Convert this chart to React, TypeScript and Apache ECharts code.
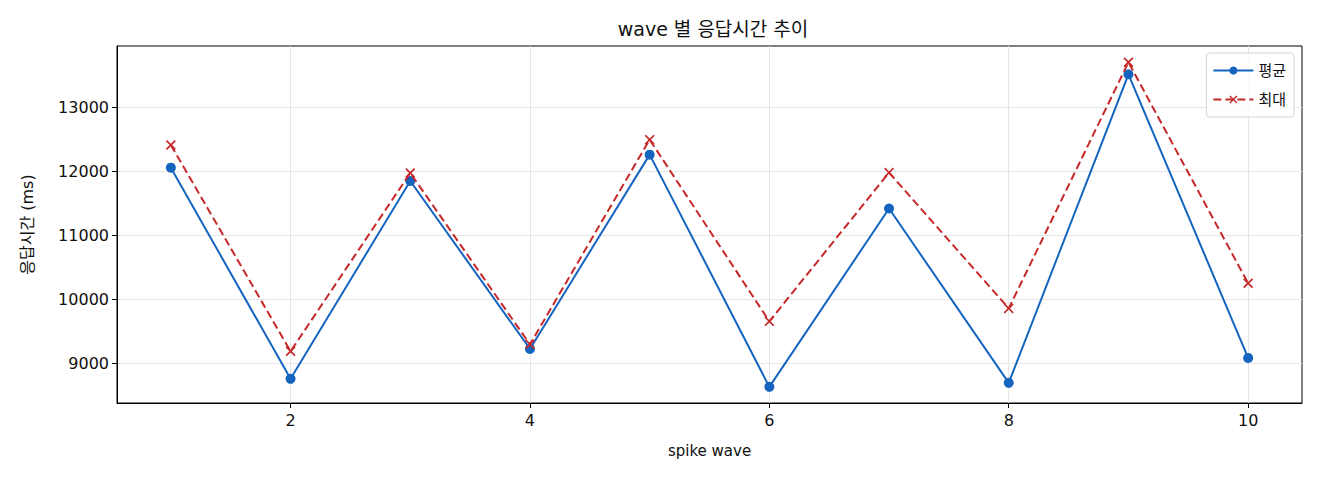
import { useEffect, useRef } from "react";
import * as echarts from "echarts";

const waves = [1, 2, 3, 4, 5, 6, 7, 8, 9, 10];
const avgMs = [12057, 8762, 11849, 9229, 12260, 8637, 11419, 8699, 13514, 9089];
const maxMs = [12410, 9192, 11974, 9300, 12494, 9659, 11980, 9861, 13701, 10254];
const xTicks = [2, 4, 6, 8, 10];
const yTicks = [9000, 10000, 11000, 12000, 13000];

const FONT = "'DejaVu Sans', 'Noto Sans CJK KR', sans-serif";
const BLUE = "#1565c0";
const RED = "#c62828";
// matplotlib-like "x" marker as a thin filled cross
const CROSS =
  "path://M0,1.2L1.2,0L5,3.8L8.8,0L10,1.2L6.2,5L10,8.8L8.8,10L5,6.2L1.2,10L0,8.8L3.8,5Z";

export default function App() {
  const chartRef = useRef<HTMLDivElement>(null);

  useEffect(() => {
    if (!chartRef.current) return;
    const chart = echarts.init(chartRef.current, undefined, { renderer: "svg" });

    const pairs = (ys: number[]) => waves.map((w, i) => [w, ys[i]]);

    chart.setOption({
      animation: false,
      backgroundColor: "#ffffff",
      textStyle: { fontFamily: FONT },
      title: {
        text: "wave 별 응답시간 추이",
        left: 708,
        top: 14,
        textAlign: "center",
        textStyle: { fontFamily: FONT, fontSize: 19, fontWeight: "normal", color: "#111" },
      },
      legend: {
        right: 26,
        top: 53,
        orient: "vertical",
        itemWidth: 40,
        itemHeight: 10,
        itemGap: 14,
        padding: [10, 8, 10, 6],
        borderColor: "#d6d6d6",
        borderWidth: 1,
        borderRadius: 3,
        backgroundColor: "rgba(255,255,255,0.8)",
        textStyle: { fontFamily: FONT, fontSize: 15, color: "#111" },
        data: ["평균", "최대"],
      },
      grid: {
        left: 117,
        right: 18,
        top: 46,
        bottom: 77,
        show: true,
        borderColor: "#000",
        borderWidth: 1,
        containLabel: false,
      },
      xAxis: {
        type: "value",
        min: 0.55,
        max: 10.45,
        name: "spike wave",
        nameLocation: "middle",
        nameGap: 40,
        nameTextStyle: { fontFamily: FONT, fontSize: 15, color: "#111" },
        axisLine: { show: true, lineStyle: { color: "#000", width: 1 } },
        axisTick: { show: true, length: 5, lineStyle: { color: "#000" }, customValues: xTicks },
        axisLabel: { fontSize: 16, color: "#111", margin: 9, customValues: xTicks },
        splitLine: { show: true, lineStyle: { color: "#e6e6e6", width: 1 } },
      },
      yAxis: {
        type: "value",
        min: 8385,
        max: 13955,
        name: "응답시간 (ms)",
        nameLocation: "middle",
        nameGap: 82,
        nameRotate: 90,
        nameTextStyle: { fontFamily: FONT, fontSize: 16, color: "#111" },
        axisLine: { show: true, lineStyle: { color: "#000", width: 1 } },
        axisTick: { show: true, length: 5, lineStyle: { color: "#000" }, customValues: yTicks },
        axisLabel: {
          fontSize: 16,
          color: "#111",
          margin: 8,
          customValues: yTicks,
          formatter: (v: number) => String(v),
        },
        splitLine: { show: true, lineStyle: { color: "#e6e6e6", width: 1 } },
      },
      series: [
        {
          name: "평균",
          type: "line",
          data: pairs(avgMs),
          symbol: "circle",
          symbolSize: 10,
          showAllSymbol: true,
          itemStyle: { color: BLUE },
          lineStyle: { color: BLUE, width: 2 },
          z: 2,
        },
        {
          name: "최대",
          type: "line",
          data: pairs(maxMs),
          symbol: CROSS,
          symbolSize: 10,
          showAllSymbol: true,
          itemStyle: { color: RED },
          lineStyle: { color: RED, width: 2, type: [8, 4] },
          z: 3,
        },
      ],
    });

    return () => {
      chart.dispose();
    };
  }, []);

  return (
    <div
      ref={chartRef}
      style={{ position: "fixed", left: 0, top: 0, width: 1320, height: 480 }}
    />
  );
}
